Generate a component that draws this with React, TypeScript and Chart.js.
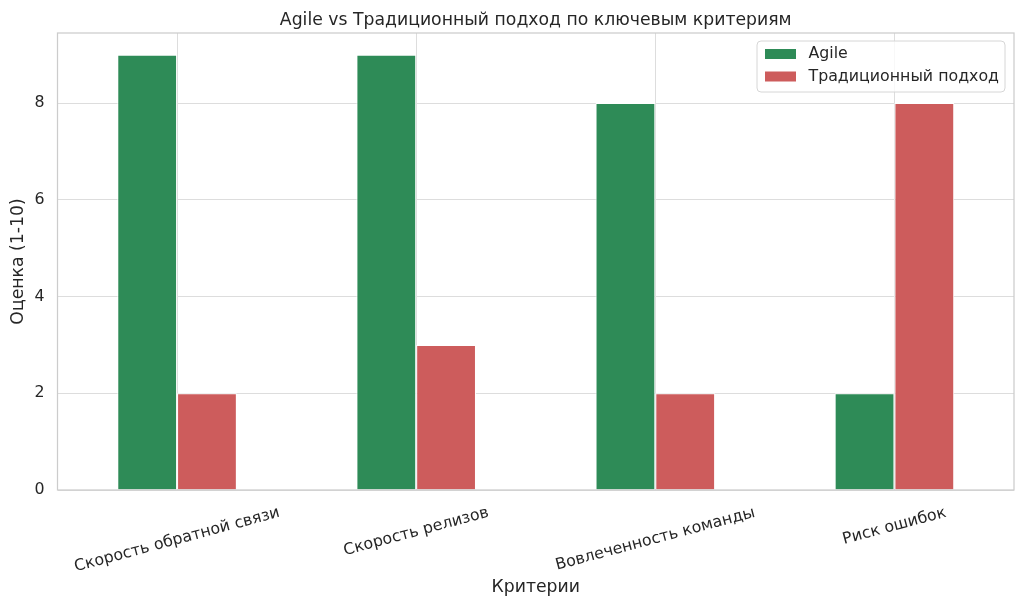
import React, { useEffect, useRef } from "react";
import { Chart, registerables } from "chart.js";

Chart.register(...registerables);

const categories = [
  "Скорость обратной связи",
  "Скорость релизов",
  "Вовлеченность команды",
  "Риск ошибок",
];
const agileValues = [9, 9, 8, 2];
const traditionalValues = [2, 3, 2, 8];
const seriesNames = ["Agile", "Традиционный подход"];
const seriesColors = ["#2e8b57", "#cd5c5c"];
const yMax = 9.45;
const yStep = 2;
const titleText = "Agile vs Традиционный подход по ключевым критериям";
const xTitle = "Критерии";
const yTitle = "Оценка (1-10)";

const FONT = '"DejaVu Sans", "Liberation Sans", sans-serif';
const TEXT = "#262626";
const BIG = 17.25;
const SMALL = 15.8;

const overlayPlugin = {
  id: "overlay",
  afterDraw(chart: any) {
    const ctx = chart.ctx as CanvasRenderingContext2D;
    const a = chart.chartArea;
    ctx.save();

    // spines
    ctx.strokeStyle = "#cccccc";
    ctx.lineWidth = 1.25;
    ctx.strokeRect(a.left, a.top, a.right - a.left, a.bottom - a.top);

    // title
    ctx.fillStyle = TEXT;
    ctx.font = `${BIG}px ${FONT}`;
    ctx.textAlign = "center";
    ctx.textBaseline = "alphabetic";
    ctx.fillText(titleText, (a.left + a.right) / 2, 24.5);

    // rotated x tick labels (centered on tick)
    const xs = chart.scales.x;
    const ang = (15 * Math.PI) / 180;
    ctx.font = `${SMALL}px ${FONT}`;
    categories.forEach((c, i) => {
      const x = xs.getPixelForTick(i);
      const w = ctx.measureText(c).width;
      const cy = a.bottom + 22.5 + (w * Math.sin(ang)) / 2;
      ctx.save();
      ctx.translate(x, cy);
      ctx.rotate(-ang);
      ctx.textAlign = "center";
      ctx.textBaseline = "middle";
      ctx.fillText(c, 0, 0);
      ctx.restore();
    });

    // legend
    const lx = 757, ly = 41, lw = 248, lh = 51, r = 4;
    ctx.beginPath();
    ctx.moveTo(lx + r, ly);
    ctx.lineTo(lx + lw - r, ly);
    ctx.arcTo(lx + lw, ly, lx + lw, ly + r, r);
    ctx.lineTo(lx + lw, ly + lh - r);
    ctx.arcTo(lx + lw, ly + lh, lx + lw - r, ly + lh, r);
    ctx.lineTo(lx + r, ly + lh);
    ctx.arcTo(lx, ly + lh, lx, ly + lh - r, r);
    ctx.lineTo(lx, ly + r);
    ctx.arcTo(lx, ly, lx + r, ly, r);
    ctx.closePath();
    ctx.fillStyle = "rgba(255,255,255,0.8)";
    ctx.fill();
    ctx.strokeStyle = "#d6d6d6";
    ctx.lineWidth = 1;
    ctx.stroke();

    const rowY = [54, 76.5];
    seriesNames.forEach((name, i) => {
      ctx.fillStyle = seriesColors[i];
      ctx.fillRect(765, rowY[i] - 5, 31, 10);
      ctx.fillStyle = TEXT;
      ctx.font = `${SMALL}px ${FONT}`;
      ctx.textAlign = "left";
      ctx.textBaseline = "middle";
      ctx.fillText(name, 808.5, rowY[i]);
    });

    ctx.restore();
  },
};

export default function App() {
  const canvasRef = useRef<HTMLCanvasElement | null>(null);

  useEffect(() => {
    if (!canvasRef.current) return;
    const chart = new Chart(canvasRef.current, {
      type: "bar",
      data: {
        labels: categories,
        datasets: [
          {
            label: seriesNames[0],
            data: agileValues,
            backgroundColor: seriesColors[0],
            borderColor: "#ffffff",
            borderWidth: 1,
            categoryPercentage: 0.5,
            barPercentage: 1.0,
          },
          {
            label: seriesNames[1],
            data: traditionalValues,
            backgroundColor: seriesColors[1],
            borderColor: "#ffffff",
            borderWidth: 1,
            categoryPercentage: 0.5,
            barPercentage: 1.0,
          },
        ],
      },
      options: {
        animation: false,
        responsive: true,
        maintainAspectRatio: false,
        layout: { padding: { top: 33, right: 10, left: 0, bottom: 0 } },
        plugins: {
          legend: { display: false },
          tooltip: { enabled: false },
          title: { display: false },
        },
        scales: {
          x: {
            grid: { offset: false, color: "#dddddd", lineWidth: 1, drawTicks: false },
            border: { display: false },
            ticks: { display: false },
            title: {
              display: true,
              text: xTitle,
              color: TEXT,
              font: { family: FONT, size: BIG },
              padding: { top: 0, bottom: 9.5 },
            },
            afterFit: (s: any) => {
              s.height = 117;
            },
          },
          y: {
            min: 0,
            max: yMax,
            grid: { color: "#dddddd", lineWidth: 1, drawTicks: false },
            border: { display: false },
            ticks: {
              stepSize: yStep,
              includeBounds: false,
              color: TEXT,
              padding: 13,
              font: { family: FONT, size: SMALL },
            },
            title: {
              display: true,
              text: yTitle,
              color: TEXT,
              font: { family: FONT, size: BIG },
              padding: { top: 8, bottom: 0 },
            },
            afterFit: (s: any) => {
              s.width = 57.5;
            },
          },
        },
      },
      plugins: [overlayPlugin],
    });
    return () => chart.destroy();
  }, []);

  return (
    <div style={{ position: "absolute", left: 0, top: 0, width: 1024, height: 607, background: "#ffffff" }}>
      <canvas ref={canvasRef} />
    </div>
  );
}
